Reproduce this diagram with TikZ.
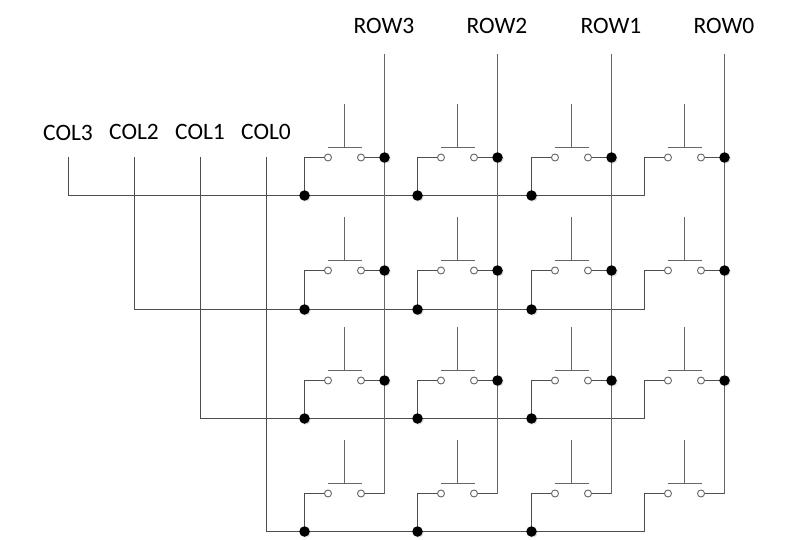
\documentclass[tikz,border=0pt]{standalone}
\usepackage{fontspec}
\setmainfont{Carlito}
\usetikzlibrary{shadows}
\definecolor{WireGray}{HTML}{4D4D4D}
\definecolor{KeyGray}{HTML}{666666}
\tikzset{
  wire/.style={draw=WireGray,line width=1pt},
  keycap/.style={draw=KeyGray,line width=1pt},
  terminal/.style={circle,draw=KeyGray,fill=white,line width=.9pt,inner sep=0pt,minimum size=7pt},
  junction/.style={circle,fill=black,inner sep=0pt,minimum size=10.5pt,drop shadow={opacity=.25,shadow xshift=1pt,shadow yshift=-1pt}},
  padlabel/.style={font=\fontsize{23.5}{25}\selectfont,text=black,inner sep=0pt}
}

\begin{document}
\begin{tikzpicture}[x=1pt,y=-1pt,line cap=butt]
  \useasboundingbox (0,0) rectangle (795,540);
  % signal labels and the free ends of their lines
  \foreach \n/\xx/\yy in {3/68/133,2/134/131.5,1/200/131.5,0/266/131.5} {
    \node[padlabel] (col\n) at (\xx,\yy) {COL\n};
  }
  \foreach \n/\xx in {3/68.5,2/134.5,1/200.5,0/266.5} \coordinate (coltop\n) at (\xx,157);
  \foreach \n/\xx in {3/384.5,2/497.5,1/611.5,0/724.5} {
    \node[padlabel] (row\n) at (\xx-.5,26) {ROW\n}; \coordinate (rowtop\n) at (\xx,54);
  }
  % switches
  \foreach \r/\yy/\bus/\top in {0/157.5/195.5/104,1/270.5/309.5/217,2/380.5/418.5/327,3/493.5/531.5/440} {
    \foreach \c/\dx in {0/0,1/113,2/227,3/340} {
      \node[terminal] (a\r\c) at (328+\dx,\yy) {};
      \node[terminal] (b\r\c) at (361+\dx,\yy) {};
      \coordinate (bar\r\c) at (344.5+\dx,\yy-10); \coordinate (stem\r\c) at (344.5+\dx,\top);
      \coordinate (sw\r\c) at (384.5+\dx,\yy); \coordinate (bus\r\c) at (304.5+\dx,\bus);
      \draw[keycap] (bar\r\c) ++(-17,0) -- ++(34,0);
      \draw[keycap] (stem\r\c) -- (bar\r\c);
      \draw[wire] (a\r\c) -| (bus\r\c);
      \draw[wire] (b\r\c) -- (sw\r\c);
    }
  }
  % column lines into the buses
  \foreach \r/\n in {0/3,1/2,2/1,3/0} \draw[wire] (coltop\n) |- (bus\r3);
  % row lines
  \foreach \c/\n in {0/3,1/2,2/1,3/0} \draw[keycap] (rowtop\n) -- (sw3\c);
  % solder dots
  \foreach \r in {0,1,2} \foreach \c in {0,1,2,3} \node[junction] (dotsw\r\c) at (sw\r\c) {};
  \foreach \r in {0,1,2,3} \foreach \c in {0,1,2} \node[junction] (dotbus\r\c) at (bus\r\c) {};
\end{tikzpicture}
\end{document}
